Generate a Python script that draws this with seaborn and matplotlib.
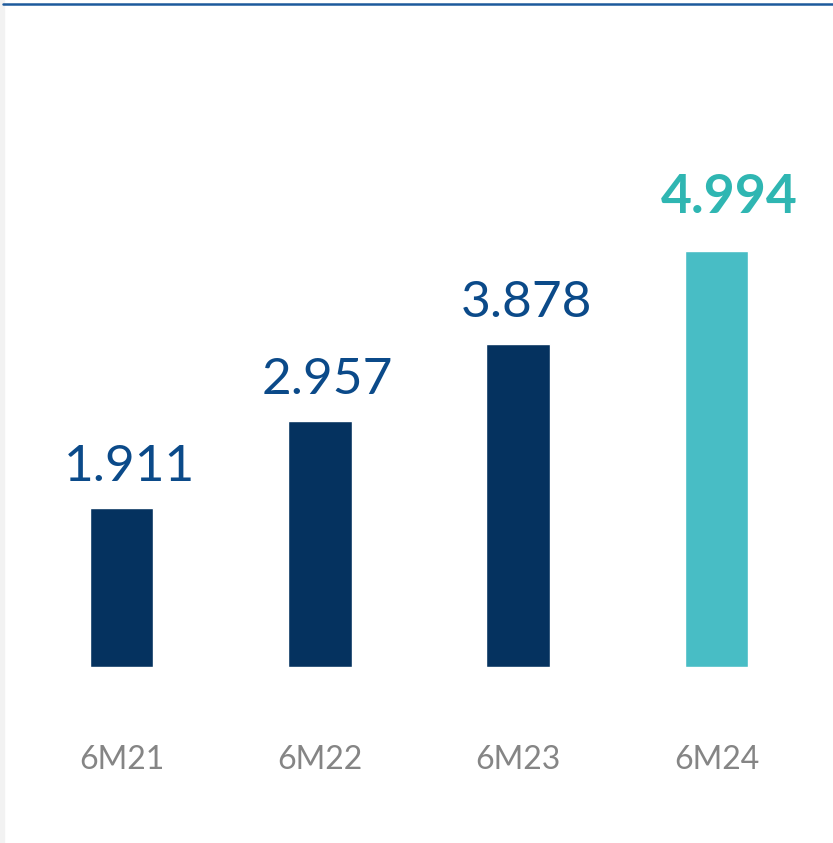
import pandas as pd
import matplotlib.pyplot as plt
import seaborn as sns

# Data
periods = ['6M21', '6M22', '6M23', '6M24']
values = [1911, 2957, 3878, 4994]
value_labels = ['1.911', '2.957', '3.878', '4.994']

NAVY = '#05325f'
TEAL = '#48bdc5'
LABEL_BLUE = '#0b4a89'
LABEL_TEAL = '#2fb6b2'

df = pd.DataFrame({'period': periods, 'value': values})
palette = {p: (TEAL if i == len(periods) - 1 else NAVY) for i, p in enumerate(periods)}

sns.set_theme(style='white')
plt.rcParams['font.family'] = ['Lato', 'DejaVu Sans']

fig = plt.figure(figsize=(8.33, 8.43), dpi=100)
ax = fig.add_axes([22.3 / 833, 176 / 843, 793.3 / 833, 500 / 843])

sns.barplot(data=df, x='period', y='value', hue='period', palette=palette,
            width=0.32, legend=False, ax=ax, saturation=1)

ax.set_xlim(-0.5, 3.5)
ax.set_ylim(0, 6000)

# value labels above bars
for i, (v, lab) in enumerate(zip(values, value_labels)):
    last = i == len(values) - 1
    ax.annotate(lab, (i, v), xytext=(13 if last else 8, 38 if last else 27),
                textcoords='offset pixels', ha='center', va='baseline',
                fontsize=38.5 if last else 37,
                fontweight='bold' if last else 'normal',
                color=LABEL_TEAL if last else LABEL_BLUE)

ax.set_xlabel('')
ax.set_ylabel('')
ax.set_yticks([])
ax.tick_params(axis='x', length=0, pad=56, labelsize=23, labelcolor='#858585')
sns.despine(ax=ax, left=True, bottom=True)

# thin grey strip on the left edge and blue rule on top
fig.patches.append(plt.Rectangle((0, 0), 4 / 833, 1, transform=fig.transFigure,
                                 color='#f2f2f2', zorder=0))
fig.lines.append(plt.Line2D([3 / 833, 1], [1 - 4 / 843, 1 - 4 / 843],
                            transform=fig.transFigure, color='#1d5a9c', linewidth=1.8))

fig.savefig('out.png', dpi=100)
